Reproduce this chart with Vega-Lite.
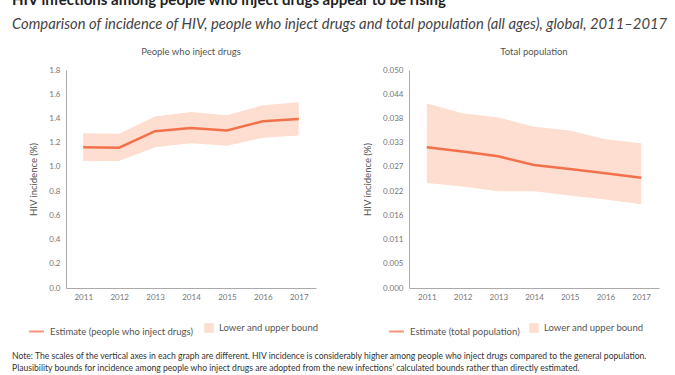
{
  "$schema": "https://vega.github.io/schema/vega-lite/v6.json",
  "padding": {"left": 12, "top": -8, "right": 5, "bottom": 4},
  "background": "white",
  "title": {
    "text": "HIV infections among people who inject drugs appear to be rising",
    "subtitle": "Comparison of incidence of HIV, people who inject drugs and total population (all ages), global, 2011–2017",
    "anchor": "start",
    "font": "Lato",
    "fontSize": 15,
    "fontWeight": "bold",
    "color": "#222222",
    "subtitleFont": "Lato",
    "subtitleFontStyle": "italic",
    "subtitleFontSize": 14.8,
    "subtitleColor": "#444444",
    "subtitlePadding": 9,
    "offset": 15
  },
  "vconcat": [
    {
      "title": {
        "text": [
          "Note: The scales of the vertical axes in each graph are different. HIV incidence is considerably higher among people who inject drugs compared to the general population.",
          "Plausibility bounds for incidence among people who inject drugs are adopted from the new infections’ calculated bounds rather than directly estimated."
        ],
        "orient": "bottom",
        "anchor": "start",
        "dx": -16,
        "font": "Lato",
        "fontSize": 8.6,
        "fontWeight": "normal",
        "color": "#333333",
        "lineHeight": 12,
        "offset": 16
      },
      "spacing": 43,
      "resolve": {
        "scale": {"y": "independent", "color": "independent", "fill": "independent"},
        "legend": {"color": "independent", "fill": "independent"}
      },
      "hconcat": [
        {
          "width": 250,
          "height": 218,
          "title": {"text": "People who inject drugs", "font": "Lato", "fontSize": 9.5, "fontWeight": "normal", "color": "#555555", "offset": 10},
          "data": {
            "values": [
              {"year": "2011", "estimate": 1.163, "lower": 1.048, "upper": 1.278},
              {"year": "2012", "estimate": 1.158, "lower": 1.048, "upper": 1.273},
              {"year": "2013", "estimate": 1.295, "lower": 1.163, "upper": 1.416},
              {"year": "2014", "estimate": 1.322, "lower": 1.196, "upper": 1.454},
              {"year": "2015", "estimate": 1.300, "lower": 1.174, "upper": 1.426},
              {"year": "2016", "estimate": 1.377, "lower": 1.240, "upper": 1.509},
              {"year": "2017", "estimate": 1.396, "lower": 1.259, "upper": 1.533}
            ]
          },
          "encoding": {
            "x": {"field": "year", "type": "ordinal", "scale": {"type": "point", "padding": 0.48}, "axis": {"title": null, "labelAngle": 0, "labelPadding": 5}}
          },
          "layer": [
            {
              "mark": {"type": "line", "strokeWidth": 2.5},
              "encoding": {
                "y": {"field": "estimate", "type": "quantitative", "scale": {"domain": [0, 1.8], "nice": false},
                  "axis": {"title": "HIV incidence (%)", "values": [0, 0.2, 0.4, 0.6, 0.8, 1.0, 1.2, 1.4, 1.6, 1.8], "tickCount": 20, "format": ".1f", "labelOverlap": false}},
                "color": {"datum": "Estimate (people who inject drugs)", "scale": {"range": ["#F3714A"]},
                  "legend": {"title": null, "orient": "none", "legendX": -38, "legendY": 253, "symbolType": "stroke", "symbolSize": 220, "symbolStrokeWidth": 2, "symbolOpacity": 0.75}}
              }
            },
            {
              "mark": {"type": "area"},
              "encoding": {
                "y": {"field": "lower", "type": "quantitative"},
                "y2": {"field": "upper"},
                "fill": {"datum": "Lower and upper bound", "scale": {"range": ["#FDDED0"]},
                  "legend": {"title": null, "orient": "none", "legendX": 138, "legendY": 253, "symbolType": "square", "symbolSize": 90, "symbolStrokeWidth": 0}}
              }
            },
            {
              "mark": {"type": "line", "strokeWidth": 2.5},
              "encoding": {
                "y": {"field": "estimate", "type": "quantitative"},
                "color": {"datum": "Estimate (people who inject drugs)"}
              }
            }
          ]
        },
        {
          "width": 250,
          "height": 218,
          "title": {"text": "Total population", "font": "Lato", "fontSize": 9.5, "fontWeight": "normal", "color": "#555555", "offset": 10},
          "data": {
            "values": [
              {"year": "2011", "estimate": 0.0323, "lower": 0.0241, "upper": 0.0423},
              {"year": "2012", "estimate": 0.0313, "lower": 0.0233, "upper": 0.0401},
              {"year": "2013", "estimate": 0.0302, "lower": 0.0222, "upper": 0.0391},
              {"year": "2014", "estimate": 0.0282, "lower": 0.0222, "upper": 0.0370},
              {"year": "2015", "estimate": 0.0273, "lower": 0.0212, "upper": 0.0361},
              {"year": "2016", "estimate": 0.0263, "lower": 0.0203, "upper": 0.0341},
              {"year": "2017", "estimate": 0.0253, "lower": 0.0192, "upper": 0.0332}
            ]
          },
          "encoding": {
            "x": {"field": "year", "type": "ordinal", "scale": {"type": "point", "padding": 0.5}, "axis": {"title": null, "labelAngle": 0, "labelPadding": 5}}
          },
          "layer": [
            {
              "mark": {"type": "line", "strokeWidth": 2.5},
              "encoding": {
                "y": {"field": "estimate", "type": "quantitative", "scale": {"domain": [0, 0.05], "nice": false},
                  "axis": {"title": "HIV incidence (%)", "values": [0, 0.0055556, 0.0111111, 0.0166667, 0.0222222, 0.0277778, 0.0333333, 0.0388889, 0.0444444, 0.05], "tickCount": 20,
                    "labelExpr": "format(floor(datum.value * 1000 + 0.001) / 1000, '.3f')", "labelOverlap": false}},
                "color": {"datum": "Estimate (total population)", "scale": {"range": ["#F3714A"]},
                  "legend": {"title": null, "orient": "none", "legendX": -21, "legendY": 253, "symbolType": "stroke", "symbolSize": 220, "symbolStrokeWidth": 2, "symbolOpacity": 0.75}}
              }
            },
            {
              "mark": {"type": "area"},
              "encoding": {
                "y": {"field": "lower", "type": "quantitative"},
                "y2": {"field": "upper"},
                "fill": {"datum": "Lower and upper bound", "scale": {"range": ["#FDDED0"]},
                  "legend": {"title": null, "orient": "none", "legendX": 120, "legendY": 253, "symbolType": "square", "symbolSize": 90, "symbolStrokeWidth": 0}}
              }
            },
            {
              "mark": {"type": "line", "strokeWidth": 2.5},
              "encoding": {
                "y": {"field": "estimate", "type": "quantitative"},
                "color": {"datum": "Estimate (total population)"}
              }
            }
          ]
        }
      ]
    }
  ],
  "config": {
    "view": {"stroke": null},
    "axis": {
      "labelFont": "Lato",
      "titleFont": "Lato",
      "labelFontSize": 8,
      "labelColor": "#777777",
      "titleFontSize": 9.5,
      "titleFontWeight": "normal",
      "titleColor": "#555555",
      "titlePadding": 10,
      "domainColor": "#AAAAAA",
      "ticks": false,
      "grid": false,
      "labelOverlap": false,
      "labelPadding": 6
    },
    "legend": {
      "labelFont": "Lato",
      "labelFontSize": 9.5,
      "labelColor": "#555555",
      "labelOffset": 5,
      "padding": 0
    }
  }
}
